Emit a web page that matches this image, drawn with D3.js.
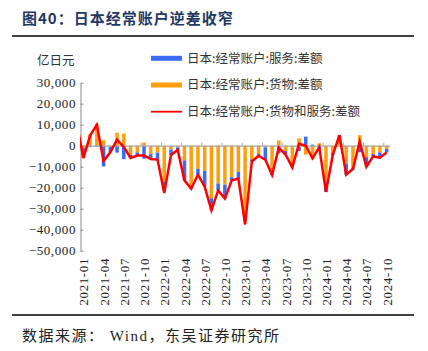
<!DOCTYPE html>
<html>
<head>
<meta charset="utf-8">
<script src="https://cdn.jsdelivr.net/npm/d3@7"></script>
<style>
body { margin: 0; background: #fff; }
</style>
</head>
<body>
<div id="chart"></div>
<script>
// months: 2020-12 is only there so the line enters from the left edge (clipped)
var months = d3.timeMonth.range(new Date(2020, 11, 1), new Date(2024, 10, 1))
    .map(d3.timeFormat("%Y-%m"));

var goods = [
    12000,
    -1200, 5500, 10300, 2600, -600, 6200, 5800, -4400, -3200, 1500, -4000, -3300,
    -17000, -1800, -800, -7000, -19500, -11000, -12000, -25000, -18000, -18500, -15000, -12500,
    -32500, -6500, -4000, -800, -13500, 2500, -2500, -8500, 3500, -4300, -6500, 1200,
    -17000, -3300, 4000, -8500, -10500, 5000, -5500, -4000, -3200, -1600
];
var services = [
    -1000,
    -4500, -700, -400, -9900, -2500, -3300, -6400, -1400, -1500, -6200, -2300, -3300,
    -4500, -2600, -1200, -9500, -1000, -2800, -7500, -5800, -3300, -6700, -1600, -3200,
    -3500, -1000, -800, -5900, -400, -3500, -1700, -1800, -2600, 4300, 500, -2000,
    -5000, -1200, 1000, -5300, -600, -3100, -4500, -1100, -2500, -1600
];
var total = [
    11000,
    -5900, 4800, 9900, -7300, -3100, 2900, -600, -5800, -4700, -4700, -6300, -6600,
    -22500, -4400, -2000, -16500, -20500, -13800, -19500, -30800, -21300, -25200, -16600, -15700,
    -37500, -7500, -4800, -6700, -13900, -1000, -4200, -10300, 900, 0, -6000, -800,
    -22000, -4500, 5000, -13800, -11100, 1900, -10000, -5100, -5700, -3200
];
var yTicks = [30000, 20000, 10000, 0, -10000, -20000, -30000, -40000, -50000];
var seriesNames = ["日本:经常账户:服务:差额", "日本:经常账户:货物:差额", "日本:经常账户:货物和服务:差额"];
var colors = { services: "#3b6cf6", goods: "#ff9f0f", total: "#ff0000" };

var width = 428, height = 351;
var serif = "'Liberation Serif', 'Times New Roman', serif";
var cjk = "'Noto Sans CJK SC', sans-serif";

var svg = d3.select("#chart").append("svg")
    .attr("width", width)
    .attr("height", height);

var x = d3.scaleLinear().domain([0.5, months.length - 0.5]).range([80, 390]);
var y = d3.scaleLinear().domain([-50000, 30000]).range([250.7, 82.7]);
var step = x(1) - x(0);

svg.append("clipPath").attr("id", "plot")
    .append("rect")
    .attr("x", 80).attr("y", 0)
    .attr("width", 310).attr("height", height);

// title
svg.append("text")
    .attr("x", 22).attr("y", 24)
    .style("font-family", cjk)
    .style("font-weight", "bold")
    .style("font-size", "15px")
    .style("letter-spacing", "1px")
    .style("fill", "#1f3864")
    .text("图40：日本经常账户逆差收窄");

svg.append("line")
    .attr("x1", 12).attr("x2", 414)
    .attr("y1", 36).attr("y2", 36)
    .attr("stroke", "#000").attr("stroke-width", 1.5);

svg.append("text")
    .attr("x", 37).attr("y", 65)
    .style("font-family", cjk)
    .style("font-size", "12.5px")
    .style("fill", "#333")
    .text("亿日元");

// stacked bars, goods nearest to zero
var rows = months.map(function(m, i) {
    return { i: i, goods: goods[i], services: services[i] };
});
var stack = d3.stack()
    .keys(["goods", "services"])
    .offset(d3.stackOffsetDiverging)(rows);

var bars = svg.append("g").attr("clip-path", "url(#plot)");
bars.selectAll("g")
    .data(stack)
    .join("g")
    .attr("fill", function(s) { return colors[s.key]; })
    .selectAll("rect")
    .data(function(s) { return s; })
    .join("rect")
    .attr("x", function(d) { return x(d.data.i) - step * 0.26; })
    .attr("width", step * 0.52)
    .attr("y", function(d) { return y(Math.max(d[0], d[1])); })
    .attr("height", function(d) { return Math.abs(y(d[0]) - y(d[1])); });

// Y axis
var yAxis = d3.axisLeft(y)
    .tickValues(yTicks)
    .tickFormat(d3.format(","))
    .tickSizeInner(-3)
    .tickSizeOuter(0)
    .tickPadding(4.5);

var gy = svg.append("g")
    .attr("transform", "translate(80.5,0)")
    .call(yAxis);
gy.select(".domain").attr("stroke", "#8c8c8c");
gy.selectAll(".tick line").attr("stroke", "#8c8c8c");
gy.selectAll("text")
    .style("font-family", serif)
    .style("font-size", "13px")
    .style("letter-spacing", "0.6px")
    .style("fill", "#222");

// zero line with quarterly ticks
var qIdx = d3.range(1, months.length, 3);
var zeroAxis = d3.axisTop(x)
    .tickValues(qIdx.map(function(i) { return i - 0.5; }))
    .tickFormat("")
    .tickSizeInner(3)
    .tickSizeOuter(0);

var gz = svg.append("g")
    .attr("transform", "translate(0," + y(0) + ")")
    .call(zeroAxis);
gz.select(".domain").attr("stroke", "#a6a6a6").attr("stroke-width", 1.3);
gz.selectAll(".tick line").attr("stroke", "#a6a6a6");

// month labels
var xAxis = d3.axisBottom(x)
    .tickValues(qIdx)
    .tickFormat(function(i) { return months[i]; })
    .tickSize(0);

var gx = svg.append("g")
    .attr("transform", "translate(0,258)")
    .call(xAxis);
gx.select(".domain").remove();
gx.selectAll("text")
    .attr("x", 0).attr("y", 0)
    .attr("dy", "0.35em")
    .attr("transform", "rotate(-90)")
    .style("text-anchor", "end")
    .style("font-family", serif)
    .style("font-size", "13px")
    .style("letter-spacing", "0.6px")
    .style("fill", "#222");

// goods and services line
var line = d3.line()
    .x(function(d, i) { return x(i); })
    .y(function(d) { return y(d); });

svg.append("path")
    .datum(total)
    .attr("clip-path", "url(#plot)")
    .attr("d", line)
    .attr("fill", "none")
    .attr("stroke", colors.total)
    .attr("stroke-width", 2.5);

// legend
var legend = svg.append("g");
var legendRows = [
    { name: seriesNames[0], color: colors.services, kind: "rect", cy: 58.3 },
    { name: seriesNames[1], color: colors.goods, kind: "rect", cy: 85 },
    { name: seriesNames[2], color: colors.total, kind: "line", cy: 111.7 }
];
legendRows.forEach(function(r) {
    if (r.kind === "rect") {
        legend.append("rect")
            .attr("x", 151).attr("y", r.cy - 2.5)
            .attr("width", 31).attr("height", 5)
            .attr("fill", r.color);
    } else {
        legend.append("line")
            .attr("x1", 151).attr("x2", 182)
            .attr("y1", r.cy).attr("y2", r.cy)
            .attr("stroke", r.color).attr("stroke-width", 1.8);
    }
    legend.append("text")
        .attr("x", 187).attr("y", r.cy)
        .attr("dy", "0.35em")
        .style("font-family", cjk)
        .style("font-size", "12.5px")
        .style("fill", "#333")
        .text(r.name);
});

svg.append("line")
    .attr("x1", 12).attr("x2", 414)
    .attr("y1", 315).attr("y2", 315)
    .attr("stroke", "#000").attr("stroke-width", 1.5);

svg.append("text")
    .attr("x", 22).attr("y", 341)
    .style("font-family", serif + ", " + cjk)
    .style("font-size", "15px")
    .style("letter-spacing", "1.5px")
    .style("fill", "#222")
    .text("数据来源： Wind，东吴证券研究所");
</script>
</body>
</html>
